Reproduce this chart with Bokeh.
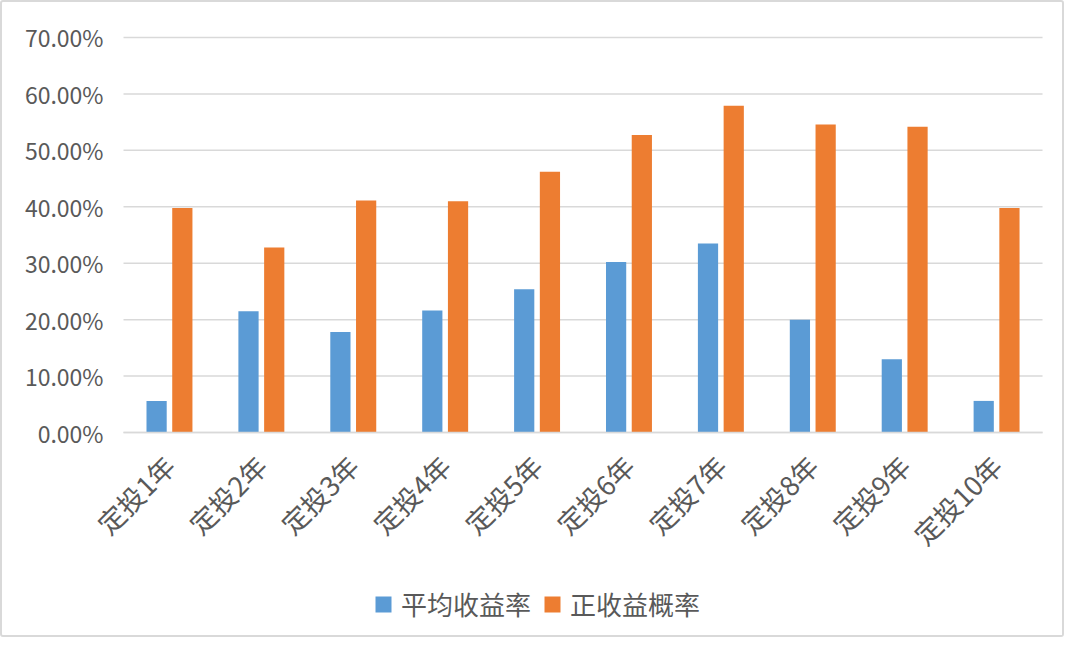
import math
from bokeh.plotting import figure
from bokeh.models import (Range1d, FixedTicker, PrintfTickFormatter,
                          Legend, LegendItem, ColumnDataSource)
from bokeh.transform import dodge
from bokeh.embed import file_html
from bokeh.resources import INLINE

categories = ["定投1年", "定投2年", "定投3年", "定投4年", "定投5年",
              "定投6年", "定投7年", "定投8年", "定投9年", "定投10年"]
avg_return = [5.6, 21.5, 17.8, 21.6, 25.4, 30.2, 33.5, 20.0, 13.0, 5.6]
pos_prob = [39.8, 32.8, 41.1, 41.0, 46.2, 52.7, 57.9, 54.6, 54.2, 39.8]
y_ticks = [0, 10, 20, 30, 40, 50, 60, 70]
series_names = ["平均收益率", "正收益概率"]
colors = ["#5B9BD5", "#ED7D31"]

FONT = "Noto Sans CJK SC"
TXT = "#595959"
GRID = "#D9D9D9"

n = len(categories)
xpos = list(range(n))
src = ColumnDataSource(dict(x=xpos, a=avg_return, b=pos_prob))

p = figure(x_range=Range1d(-1.708, 9.652), y_range=Range1d(-34.2, 74.43),
           width=1064, height=637, output_backend="svg", toolbar_location=None,
           min_border_left=10, min_border_right=10, min_border_top=10,
           min_border_bottom=14)
p.styles = {"border": "2px solid #D9D9D9", "border-radius": "3px", "box-sizing": "border-box"}

# horizontal gridlines limited to the category area
p.segment(x0=[-0.5] * len(y_ticks), x1=[n - 0.5] * len(y_ticks), y0=y_ticks, y1=y_ticks,
          line_color=GRID, line_width=1.5)

r1 = p.vbar(x=dodge("x", -0.14), top="a", width=0.22,
            source=src, color=colors[0], line_color=None)
r2 = p.vbar(x=dodge("x", 0.14), top="b", width=0.22,
            source=src, color=colors[1], line_color=None)

p.outline_line_color = None
p.background_fill_color = "white"
p.border_fill_color = "white"
p.xgrid.grid_line_color = None
p.ygrid.grid_line_color = None

p.yaxis.fixed_location = -0.5
p.yaxis.bounds = (0, 70)
p.yaxis.ticker = FixedTicker(ticks=y_ticks)
p.yaxis.formatter = PrintfTickFormatter(format="%.2f%%")
p.yaxis.axis_line_color = None
p.yaxis.major_tick_line_color = None
p.yaxis.minor_tick_line_color = None
p.yaxis.major_label_text_font = FONT
p.yaxis.major_label_text_font_size = "23px"
p.yaxis.major_label_text_color = TXT
p.yaxis.major_label_standoff = 14

p.xaxis.fixed_location = 0
p.xaxis.bounds = (-0.5, n - 0.5)
p.xaxis.ticker = FixedTicker(ticks=xpos)
p.xaxis.major_label_overrides = {i: c for i, c in zip(xpos, categories)}
p.xaxis.axis_line_color = GRID
p.xaxis.axis_line_width = 1.5
p.xaxis.major_tick_line_color = None
p.xaxis.minor_tick_line_color = None
p.xaxis.major_label_orientation = math.pi / 4
p.xaxis.major_label_text_font = FONT
p.xaxis.major_label_text_font_size = "27px"
p.xaxis.major_label_text_color = TXT
p.xaxis.major_label_standoff = 22

legend = Legend(items=[LegendItem(label=series_names[0], renderers=[r1]),
                       LegendItem(label=series_names[1], renderers=[r2])],
                orientation="horizontal", location=(361, 3))
legend.label_text_font = FONT
legend.label_text_font_size = "26px"
legend.label_text_color = TXT
legend.glyph_width = 20
legend.glyph_height = 20
legend.label_standoff = 8
legend.spacing = 11
legend.padding = 0
legend.margin = 0
legend.border_line_color = None
legend.background_fill_alpha = 0
p.add_layout(legend)

open("out.html", "w").write(file_html(p, INLINE))
